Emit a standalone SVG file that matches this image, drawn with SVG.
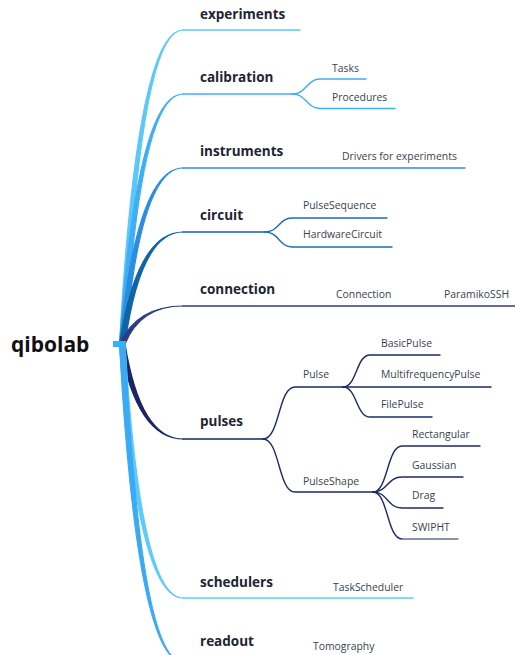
<svg xmlns="http://www.w3.org/2000/svg" width="515" height="655" viewBox="0 0 515 655">
  <style>
    .topic { font-family: "Open Sans", "Liberation Sans", sans-serif; font-weight: 700; font-size: 13.5px; fill: #1d2433; }
    .sub { font-family: "Open Sans", "Liberation Sans", sans-serif; font-size: 10.4px; fill: #3a3f4d; }
    .root { font-family: "Open Sans", "Liberation Sans", sans-serif; font-weight: 700; font-size: 21px; fill: #111111; }
    .line { fill: none; stroke-width: 1.4; stroke-linecap: round; }
    .taper { stroke-width: 1.2; stroke-linejoin: round; }
  </style>

  <!-- connectors: tapered main branches, then sub-branch curves -->
  <g id="connectors">
    <!-- experiments -->
    <path class="taper" fill="#5bc8f8" stroke="#5bc8f8" d="M119.5,344 Q137,30 183,30 Q140.5,30 125,344 Z"/>
    <path class="line" stroke="#5bc8f8" d="M183,30 H300"/>
    <!-- calibration -->
    <path class="taper" fill="#3faef7" stroke="#3faef7" d="M119.5,344 Q137,94 183,94 Q140.5,94 125,344 Z"/>
    <path class="line" stroke="#3faef7" d="M183,94 H293"/>
    <path class="line" stroke="#3faef7" d="M293,94 C306,94 307,79 320,79 H366"/>
    <path class="line" stroke="#3faef7" d="M293,94 C306,94 307,108.5 320,108.5 H395"/>
    <!-- instruments -->
    <path class="taper" fill="#2b8de2" stroke="#2b8de2" d="M119.5,344 Q137,168 183,168 Q140.5,168 125,344 Z"/>
    <path class="line" stroke="#2b8de2" d="M183,168 H465"/>
    <!-- circuit -->
    <path class="taper" fill="#0f64a6" stroke="#0f64a6" d="M119.5,344 Q137,232 183,232 Q140.5,232 125,344 Z"/>
    <path class="line" stroke="#0f64a6" d="M183,232 H265"/>
    <path class="line" stroke="#1a6fb0" d="M265,232 C279,232 279,218 292,218 H387"/>
    <path class="line" stroke="#1a6fb0" d="M265,232 C279,232 279,247 292,247 H392"/>
    <!-- connection -->
    <path class="taper" fill="#2c3c85" stroke="#2c3c85" d="M119.5,344 Q137,306 183,306 Q140.5,306 125,344 Z"/>
    <path class="line" stroke="#2c3c85" d="M183,306 H515"/>
    <!-- pulses -->
    <path class="taper" fill="#1a2563" stroke="#1a2563" d="M119.5,344 Q137,439 183,439 Q140.5,439 125,344 Z"/>
    <path class="line" stroke="#1a2563" d="M183,439 H263"/>
    <path class="line" stroke="#1e2a66" d="M263,439 C280,439 278,387 295,387 H343"/>
    <path class="line" stroke="#1e2a66" d="M263,439 C280,439 278,492 295,492 H373"/>
    <path class="line" stroke="#1e2a66" d="M343,387 C357,387 356,355 370,355 H440"/>
    <path class="line" stroke="#1e2a66" d="M343,387 H491"/>
    <path class="line" stroke="#1e2a66" d="M343,387 C357,387 356,417 370,417 H432"/>
    <path class="line" stroke="#1e2a66" d="M373,492 C388,492 387,446 402,446 H480"/>
    <path class="line" stroke="#1e2a66" d="M373,492 C388,492 387,477 402,477 H463"/>
    <path class="line" stroke="#1e2a66" d="M373,492 C388,492 387,508 402,508 H443"/>
    <path class="line" stroke="#1e2a66" d="M373,492 C388,492 387,539 402,539"/>
    <path class="line" stroke="#656d95" stroke-width="1.8" d="M402,539 H458"/>
    <!-- schedulers -->
    <path class="taper" fill="#5bcbfa" stroke="#5bcbfa" d="M119.5,344 Q137,598 183,598 Q140.5,598 125,344 Z"/>
    <path class="line" stroke="#5bcbfa" d="M183,598 H413"/>
    <!-- readout -->
    <path class="taper" fill="#3baaf5" stroke="#3baaf5" d="M119.5,344 Q137,662 183,662 Q140.5,662 125,344 Z"/>
    <path class="line" stroke="#3baaf5" d="M183,662 H300"/>
  </g>

  <g id="root">
    <rect x="113" y="341" width="13" height="6" fill="#38b0f8"/>
    <text class="root" x="11" y="352">qibolab</text>
  </g>

  <g id="experiments"><text class="topic" x="200" y="19">experiments</text></g>
  <g id="calibration">
    <text class="topic" x="200" y="82">calibration</text>
    <g id="tasks"><text class="sub" x="332" y="72">Tasks</text></g>
    <g id="procedures"><text class="sub" x="332" y="101">Procedures</text></g>
  </g>
  <g id="instruments">
    <text class="topic" x="200" y="156">instruments</text>
    <g id="drivers"><text class="sub" x="342" y="160">Drivers for experiments</text></g>
  </g>
  <g id="circuit">
    <text class="topic" x="200" y="220">circuit</text>
    <g id="pulsesequence"><text class="sub" x="303" y="209">PulseSequence</text></g>
    <g id="hardwarecircuit"><text class="sub" x="303" y="238">HardwareCircuit</text></g>
  </g>
  <g id="connection">
    <text class="topic" x="200" y="294">connection</text>
    <g id="connection-class"><text class="sub" x="336" y="298">Connection</text></g>
    <g id="paramikossh"><text class="sub" x="444" y="298">ParamikoSSH</text></g>
  </g>
  <g id="pulses">
    <text class="topic" x="200" y="426">pulses</text>
    <g id="pulse"><text class="sub" x="303" y="378">Pulse</text></g>
    <g id="basicpulse"><text class="sub" x="381" y="347">BasicPulse</text></g>
    <g id="multifrequencypulse"><text class="sub" x="381" y="378">MultifrequencyPulse</text></g>
    <g id="filepulse"><text class="sub" x="381" y="408">FilePulse</text></g>
    <g id="pulseshape"><text class="sub" x="303" y="485">PulseShape</text></g>
    <g id="rectangular"><text class="sub" x="412" y="438">Rectangular</text></g>
    <g id="gaussian"><text class="sub" x="412" y="469">Gaussian</text></g>
    <g id="drag"><text class="sub" x="412" y="499">Drag</text></g>
    <g id="swipht"><text class="sub" x="412" y="531">SWIPHT</text></g>
  </g>
  <g id="schedulers">
    <text class="topic" x="200" y="587">schedulers</text>
    <g id="taskscheduler"><text class="sub" x="333" y="591">TaskScheduler</text></g>
  </g>
  <g id="readout">
    <text class="topic" x="200" y="646">readout</text>
    <g id="tomography"><text class="sub" x="313" y="650">Tomography</text></g>
  </g>
</svg>
